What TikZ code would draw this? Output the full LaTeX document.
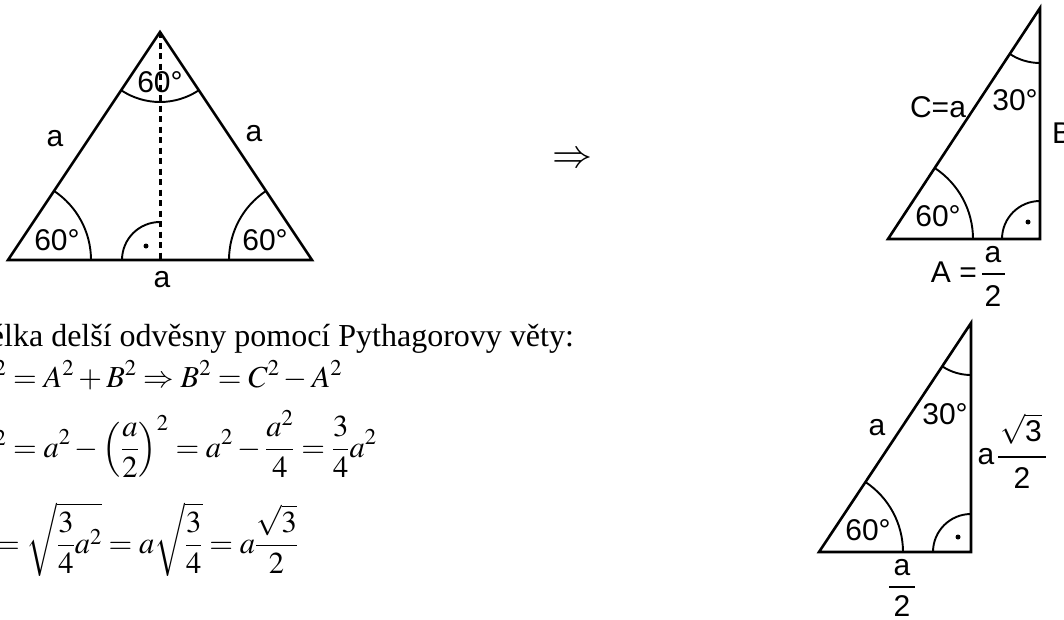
\documentclass[tikz,border=0pt]{standalone}
\usepackage{amsmath}
\usepackage{mathptmx}
\usepackage[no-math]{fontspec}
\setmainfont{Liberation Serif}
\newfontfamily\labfont{Liberation Sans}
\tikzset{
  tri/.style={line width=2.6pt, line join=miter},
  angarc/.style={line width=1.9pt},
  lab/.style={font=\labfont\fontsize{30}{36}\selectfont, inner sep=0pt},
  txt/.style={font=\fontsize{32}{38}\selectfont, inner sep=0pt, anchor=base west},
  eq/.style={font=\fontsize{30.5}{36}\selectfont, inner sep=0pt, anchor=base west},
  fracbar/.style={line width=1.6pt},
  dotm/.style={fill, circle, inner sep=0pt, minimum size=5pt},
  altit/.style={line width=3pt, dash pattern=on 6pt off 4.5pt}
}
\begin{document}
\begin{tikzpicture}[x=1pt,y=1pt]
\useasboundingbox (0,0) rectangle (1064,-619);
\clip (0,0) rectangle (1064,-619);
% ---------- equilateral triangle ----------
\coordinate (L) at (8,-260);
\coordinate (R) at (312,-260);
\coordinate (T) at (160,-32);
\coordinate (F) at (160,-260);
\draw[tri] (L) -- (R) -- (T) -- cycle;
\draw[altit] (T) -- (F);
\draw[angarc] (L) ++(0:83) arc[start angle=0,end angle=56.3,radius=83];
\draw[angarc] (R) ++(123.7:83) arc[start angle=123.7,end angle=180,radius=83];
\draw[angarc] (T) ++(236.3:70) arc[start angle=236.3,end angle=303.7,radius=70];
\draw[angarc] (F) ++(180:38) arc[start angle=180,end angle=90,radius=38];
\node[dotm] (d0) at (146,-246) {};
\node[lab] (m1) at (160,-82) {60°};
\node[lab] (m2) at (57,-240) {60°};
\node[lab] (m3) at (265,-240) {60°};
\node[lab] (s1) at (55,-139) {a};
\node[lab] (s2) at (254,-134) {a};
\node[lab] (s3) at (162,-280) {a};
% ---------- arrow ----------
\node[font=\fontsize{40}{46}\selectfont, inner sep=0pt] (arr) at (572,-160) {$\Rightarrow$};
% ---------- right triangle 1 ----------
\coordinate (P) at (888,-239);
\coordinate (Q) at (1040,-239);
\coordinate (S) at (1040,-8);
\draw[tri] (P) -- (Q) -- (S) -- cycle;
\draw[angarc] (P) ++(0:85) arc[start angle=0,end angle=56.65,radius=85];
\draw[angarc] (S) ++(236.65:55) arc[start angle=236.65,end angle=270,radius=55];
\draw[angarc] (Q) ++(180:38) arc[start angle=180,end angle=90,radius=38];
\node[dotm] (d1) at (1028,-222) {};
\node[lab] (c1) at (938,-107) {C=a};
\node[lab] (c2) at (1015,-100) {30°};
\node[lab] (c3) at (938,-216) {60°};
\node[lab, anchor=west] (c4) at (1052,-133) {B};
\node[lab, anchor=base east] (c5) at (977,-282) {A =};
\node[lab] (c6) at (993,-255) {a};
\draw[fracbar] (982,-274) -- (1005,-274);
\node[lab] (c7) at (993,-296) {2};
% ---------- right triangle 2 ----------
\coordinate (P2) at (819,-552);
\coordinate (Q2) at (971,-552);
\coordinate (S2) at (971,-323);
\draw[tri] (P2) -- (Q2) -- (S2) -- cycle;
\draw[angarc] (P2) ++(0:84) arc[start angle=0,end angle=56.43,radius=84];
\draw[angarc] (S2) ++(236.43:52) arc[start angle=236.43,end angle=270,radius=52];
\draw[angarc] (Q2) ++(180:38) arc[start angle=180,end angle=90,radius=38];
\node[dotm] (d2) at (958,-537) {};
\node[lab] (k1) at (877,-428) {a};
\node[lab] (k2) at (945,-414) {30°};
\node[lab] (k3) at (868,-530) {60°};
\node[lab] (k4) at (986,-457) {a};
\node[lab] (k5) at (1021,-429) {$\sqrt{\text{3}}$};
\draw[fracbar] (998,-457) -- (1046,-457);
\node[lab] (k6) at (1022,-478) {2};
\node[lab] (k7) at (902,-568) {a};
\draw[fracbar] (889,-587) -- (915,-587);
\node[lab] (k8) at (902,-606) {2};
% ---------- text ----------
\node[txt] (t1) at (4,-346) {\llap{Dé}lka delší odvěsny pomocí Pythagorovy věty:};
\node[eq] (e1) at (13,-387) {\llap{$C^2\;$}$= A^2 + B^2 \Rightarrow B^2 = C^2 - A^2$};
\node[eq] (e2) at (13,-457) {\llap{$B^2\;$}$\displaystyle = a^2 - \left(\frac{a}{2}\right)^2 = a^2 - \frac{a^2}{4} = \frac{3}{4}a^2$};
\node[eq] (e3) at (-4,-553) {\llap{$B\;$}$\displaystyle = \sqrt{\frac{3}{4}a^2} = a\sqrt{\frac{3}{4}} = a\frac{\sqrt{3}}{2}$};
\end{tikzpicture}
\end{document}
